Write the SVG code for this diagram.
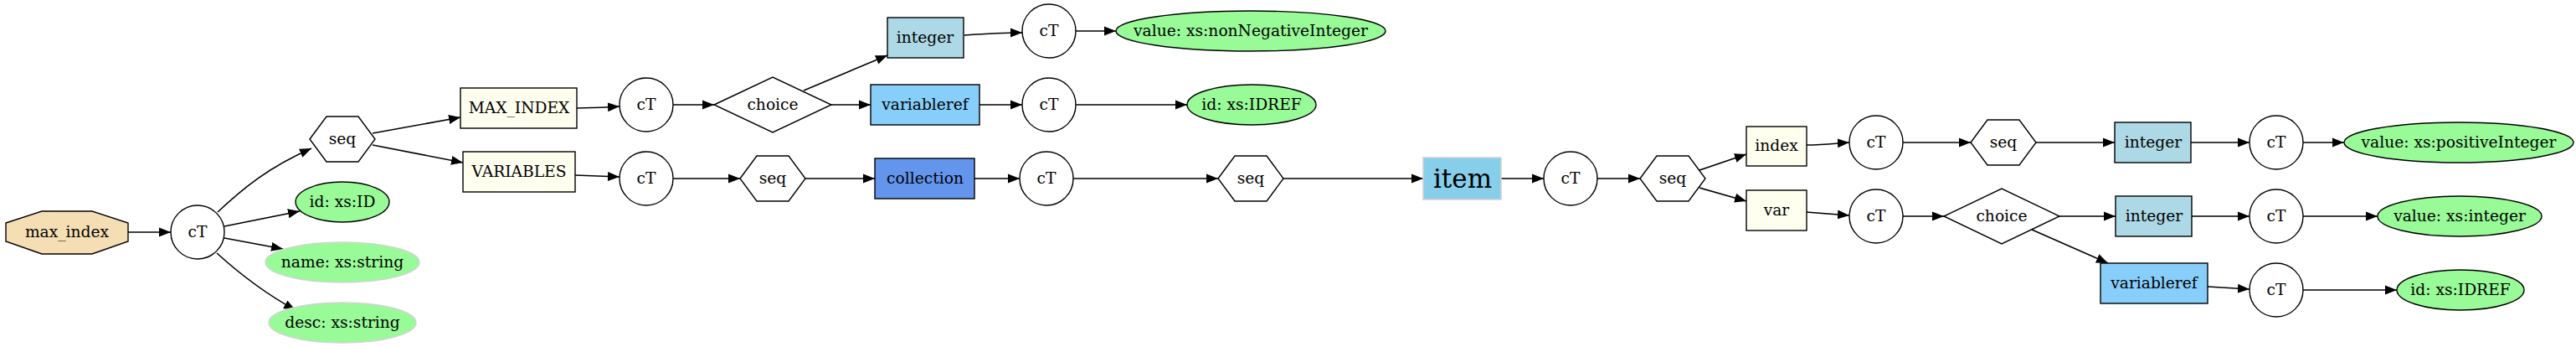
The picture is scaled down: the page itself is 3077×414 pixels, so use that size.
<svg xmlns="http://www.w3.org/2000/svg" width="3077" height="414" viewBox="0 0 3077 414">
<defs>
<marker id="ah" markerUnits="userSpaceOnUse" markerWidth="15" markerHeight="12" refX="14" refY="6" orient="auto">
<path d="M0,0.5 L14,6 L0,11.5 z" fill="#000"/>
</marker>
<style>
text{font-family:"DejaVu Serif","Liberation Serif",serif;font-size:18.67px;text-anchor:middle;fill:#000}
.n{stroke:#000;stroke-width:1.4;fill:#fff}
.iv{fill:#fffff0;stroke:#000;stroke-width:1.4}
.lb{fill:#add8e6;stroke:#000;stroke-width:1.4}
.ls{fill:#87cefa;stroke:#000;stroke-width:1.4}
.cf{fill:#6495ed;stroke:#000;stroke-width:1.4}
.g{fill:#98fb98;stroke:#000;stroke-width:1.4}
.gl{fill:#98fb98;stroke:#d3d3d3;stroke-width:1.4}
#conn path{fill:none;stroke:#000;stroke-width:1.6;marker-end:url(#ah)}
</style>
</defs>
<rect width="3077" height="414" fill="#fff"/>
<g id="conn">
<path d="M153,277 L204,277"/>
<path d="M260,253 C290,225 320,200 372,177"/>
<path d="M268,270 L358,252"/>
<path d="M268,284 L338,297"/>
<path d="M259,302 C290,330 320,352 353,370"/>
<path d="M445,159 L550,140"/>
<path d="M445,173 L553,194"/>
<path d="M689,129 C710,129 722,128 740,127"/>
<path d="M687,209 L740,211"/>
<path d="M804,125 L853,125"/>
<path d="M804,213 L884,213"/>
<path d="M960,108 L1060,66"/>
<path d="M993,125 L1040,125"/>
<path d="M1152,42 C1180,40 1200,39 1221,39"/>
<path d="M1285,37 L1333,37"/>
<path d="M1170,125 L1221,125"/>
<path d="M1285,125 L1418,125"/>
<path d="M962,213 L1045,213"/>
<path d="M1164,213 L1218,213"/>
<path d="M1282,213 L1455,213"/>
<path d="M1532,213 L1700,213"/>
<path d="M1793,213 L1844,213"/>
<path d="M1908,213 L1959,213"/>
<path d="M2030,203 L2086,184"/>
<path d="M2030,224 L2086,240"/>
<path d="M2158,173 C2180,173 2192,171 2209,170"/>
<path d="M2273,170 L2354,170"/>
<path d="M2432,170 L2526,170"/>
<path d="M2617,170 L2687,170"/>
<path d="M2751,170 L2800,170"/>
<path d="M2157,253 L2209,257"/>
<path d="M2273,258 L2322,258"/>
<path d="M2460,258 L2527,258"/>
<path d="M2618,258 L2687,258"/>
<path d="M2751,258 L2840,258"/>
<path d="M2427,274 L2518,314"/>
<path d="M2637,342 L2687,345"/>
<path d="M2751,346 L2863,346"/>
</g>
<g id="max_index"><polygon class="n" style="fill:#f5deb3" points="7,266 50,252 110,252 153,266 153,288 110,303 50,303 7,288"/><text x="80" y="283">max_index</text></g>
<g id="ct1"><circle class="n" cx="236" cy="277" r="32"/><text x="236" y="283">cT</text></g>
<g id="seq1"><polygon class="n" points="370,166 390,139 428,139 448,166 428,193 390,193"/><text x="409" y="172">seq</text></g>
<g id="attr_id"><ellipse class="g" cx="409" cy="241" rx="56" ry="24"/><text x="409" y="247">id: xs:ID</text></g>
<g id="attr_name"><ellipse class="gl" cx="409" cy="313" rx="92" ry="24"/><text x="409" y="319">name: xs:string</text></g>
<g id="attr_desc"><ellipse class="gl" cx="409" cy="385" rx="88" ry="24"/><text x="409" y="391">desc: xs:string</text></g>
<g id="MAX_INDEX"><rect class="iv" x="550" y="105" width="139" height="48"/><text x="620" y="135">MAX_INDEX</text></g>
<g id="VARIABLES"><rect class="iv" x="553" y="181" width="134" height="48"/><text x="620" y="211">VARIABLES</text></g>
<g id="ct2"><circle class="n" cx="772" cy="125" r="32"/><text x="772" y="131">cT</text></g>
<g id="ct3"><circle class="n" cx="772" cy="213" r="32"/><text x="772" y="219">cT</text></g>
<g id="choice1"><polygon class="n" points="853,125 923,92 993,125 923,158"/><text x="923" y="131">choice</text></g>
<g id="seq2"><polygon class="n" points="884,213 904,186 942,186 962,213 942,240 904,240"/><text x="923" y="219">seq</text></g>
<g id="integer1"><rect class="lb" x="1060" y="21" width="91" height="48"/><text x="1105" y="51">integer</text></g>
<g id="variableref1"><rect class="ls" x="1040" y="101" width="130" height="48"/><text x="1105" y="131">variableref</text></g>
<g id="collection"><rect class="cf" x="1045" y="189" width="119" height="48"/><text x="1105" y="219">collection</text></g>
<g id="ct4"><circle class="n" cx="1253" cy="37" r="32"/><text x="1253" y="43">cT</text></g>
<g id="ct5"><circle class="n" cx="1253" cy="125" r="32"/><text x="1253" y="131">cT</text></g>
<g id="ct6"><circle class="n" cx="1250" cy="213" r="32"/><text x="1250" y="219">cT</text></g>
<g id="value1"><ellipse class="g" cx="1494" cy="37" rx="161" ry="24"/><text x="1494" y="43">value: xs:nonNegativeInteger</text></g>
<g id="idref1"><ellipse class="g" cx="1495" cy="125" rx="77" ry="24"/><text x="1495" y="131">id: xs:IDREF</text></g>
<g id="seq3"><polygon class="n" points="1455,213 1475,186 1513,186 1533,213 1513,240 1475,240"/><text x="1494" y="219">seq</text></g>
<g id="item"><rect x="1700" y="188" width="93" height="50" fill="#87ceeb" stroke="#d3d3d3" stroke-width="1.6"/><text x="1747" y="224" style="font-size:31px">item</text></g>
<g id="ct7"><circle class="n" cx="1876" cy="213" r="32"/><text x="1876" y="219">cT</text></g>
<g id="seq4"><polygon class="n" points="1959,213 1979,186 2017,186 2037,213 2017,240 1979,240"/><text x="1998" y="219">seq</text></g>
<g id="index"><rect class="iv" x="2086" y="151" width="72" height="47"/><text x="2122" y="180">index</text></g>
<g id="var"><rect class="iv" x="2086" y="227" width="72" height="48"/><text x="2122" y="257">var</text></g>
<g id="ct8"><circle class="n" cx="2241" cy="170" r="32"/><text x="2241" y="176">cT</text></g>
<g id="ct9"><circle class="n" cx="2241" cy="258" r="32"/><text x="2241" y="264">cT</text></g>
<g id="seq5"><polygon class="n" points="2354,170 2374,143 2412,143 2432,170 2412,197 2374,197"/><text x="2393" y="176">seq</text></g>
<g id="choice2"><polygon class="n" points="2322,258 2391,225 2460,258 2391,291"/><text x="2391" y="264">choice</text></g>
<g id="integer2"><rect class="lb" x="2526" y="146" width="91" height="48"/><text x="2572" y="176">integer</text></g>
<g id="integer3"><rect class="lb" x="2527" y="234" width="91" height="48"/><text x="2573" y="264">integer</text></g>
<g id="variableref2"><rect class="ls" x="2509" y="314" width="128" height="48"/><text x="2573" y="344">variableref</text></g>
<g id="ct10"><circle class="n" cx="2719" cy="170" r="32"/><text x="2719" y="176">cT</text></g>
<g id="ct11"><circle class="n" cx="2719" cy="258" r="32"/><text x="2719" y="264">cT</text></g>
<g id="ct12"><circle class="n" cx="2719" cy="346" r="32"/><text x="2719" y="352">cT</text></g>
<g id="value2"><ellipse class="g" cx="2937" cy="170" rx="137" ry="24"/><text x="2937" y="176">value: xs:positiveInteger</text></g>
<g id="value3"><ellipse class="g" cx="2938" cy="258" rx="98" ry="24"/><text x="2938" y="264">value: xs:integer</text></g>
<g id="idref2"><ellipse class="g" cx="2939" cy="346" rx="76" ry="24"/><text x="2939" y="352">id: xs:IDREF</text></g>
</svg>
